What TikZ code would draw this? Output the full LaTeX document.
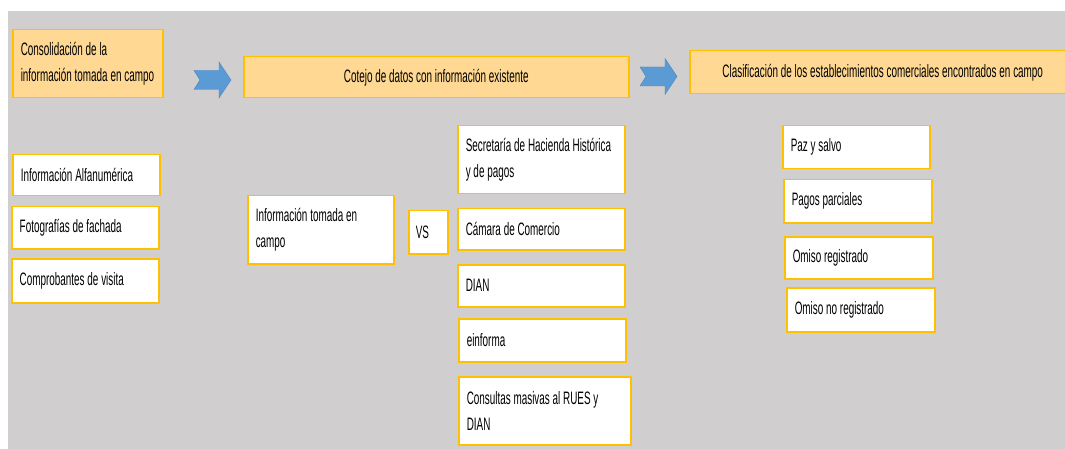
\documentclass[tikz,border=0pt]{standalone}
\usepackage{fontspec}
\setmainfont{Liberation Sans}[FakeStretch=0.55]
\definecolor{panelgray}{HTML}{D0CECE}
\definecolor{boxgold}{HTML}{FFC000}
\definecolor{headfill}{HTML}{FFD993}
\definecolor{arrowblue}{HTML}{5B9BD5}
\tikzset{
  wbox/.style={draw=boxgold, line width=1.5pt, fill=white, anchor=north west, align=left,
    inner xsep=8pt, inner ysep=0pt, font=\fontsize{18}{26}\selectfont,
    execute at begin node={\spaceskip=2.8pt\relax}},
  hbox/.style={wbox, fill=headfill},
  notcharrow/.pic={
    \fill[arrowblue, draw=arrowblue!85!black, line width=0.4pt]
      (0,9.5) -- (25,9.5) -- (25,18) -- (37,0) -- (25,-18) -- (25,-9.5) -- (0,-9.5) -- (6,0) -- cycle;
  }
}
\begin{document}
\begin{tikzpicture}[x=1pt, y=-1pt]
    \clip (0,0) rectangle (1065,449);
    \fill[white] (0,0) rectangle (1065,449);
    \fill[panelgray] (8,11) rectangle (1065,449);

    \node[hbox, text width=134pt, minimum height=68pt] (consol) at (12,29) {Consolidación de la\\información tomada en campo};
    \node[hbox, text width=369pt, minimum height=41pt, align=center] (cotejo) at (243,56) {Cotejo de datos con información existente};
    \node[hbox, text width=370pt, minimum height=43pt, align=center] (clasif) at (689,50) {Clasificación de los establecimientos comerciales encontrados en campo};

    \pic at (194,80) {notcharrow};
    \pic at (640,76.5) {notcharrow};

    \node[wbox, text width=131pt, minimum height=41pt] (alfa) at (12,154) {Información Alfanumérica};
    \node[wbox, text width=131pt, minimum height=42pt] (foto) at (11,206) {Fotografías de fachada};
    \node[wbox, text width=131pt, minimum height=44pt] (compro) at (11,258) {Comprobantes de visita};

    \node[wbox, text width=130pt, minimum height=68pt] (tomada) at (247,195) {Información tomada en\\campo};
    \node[wbox, minimum height=43pt, inner xsep=7pt, text width=25pt] (vs) at (408,210) {VS};

    \node[wbox, text width=151pt, minimum height=68pt] (secret) at (457,125) {Secretaría de Hacienda Histórica\\y de pagos};
    \node[wbox, text width=151pt, minimum height=41pt] (camara) at (457,208) {Cámara de Comercio};
    \node[wbox, text width=151pt, minimum height=42pt] (dian) at (457,264) {DIAN};
    \node[wbox, text width=151pt, minimum height=43pt] (einf) at (458,318) {einforma};
    \node[wbox, text width=156pt, minimum height=68pt] (consul) at (458,376) {Consultas masivas al RUES y\\DIAN};

    \node[wbox, text width=131pt, minimum height=43pt] (paz) at (782,125) {Paz y salvo};
    \node[wbox, text width=132pt, minimum height=43pt] (parc) at (783,179) {Pagos parciales};
    \node[wbox, text width=132pt, minimum height=42pt] (omreg) at (784,236) {Omiso registrado};
    \node[wbox, text width=132pt, minimum height=44pt] (omnoreg) at (786,287) {Omiso no registrado};
\end{tikzpicture}
\end{document}
